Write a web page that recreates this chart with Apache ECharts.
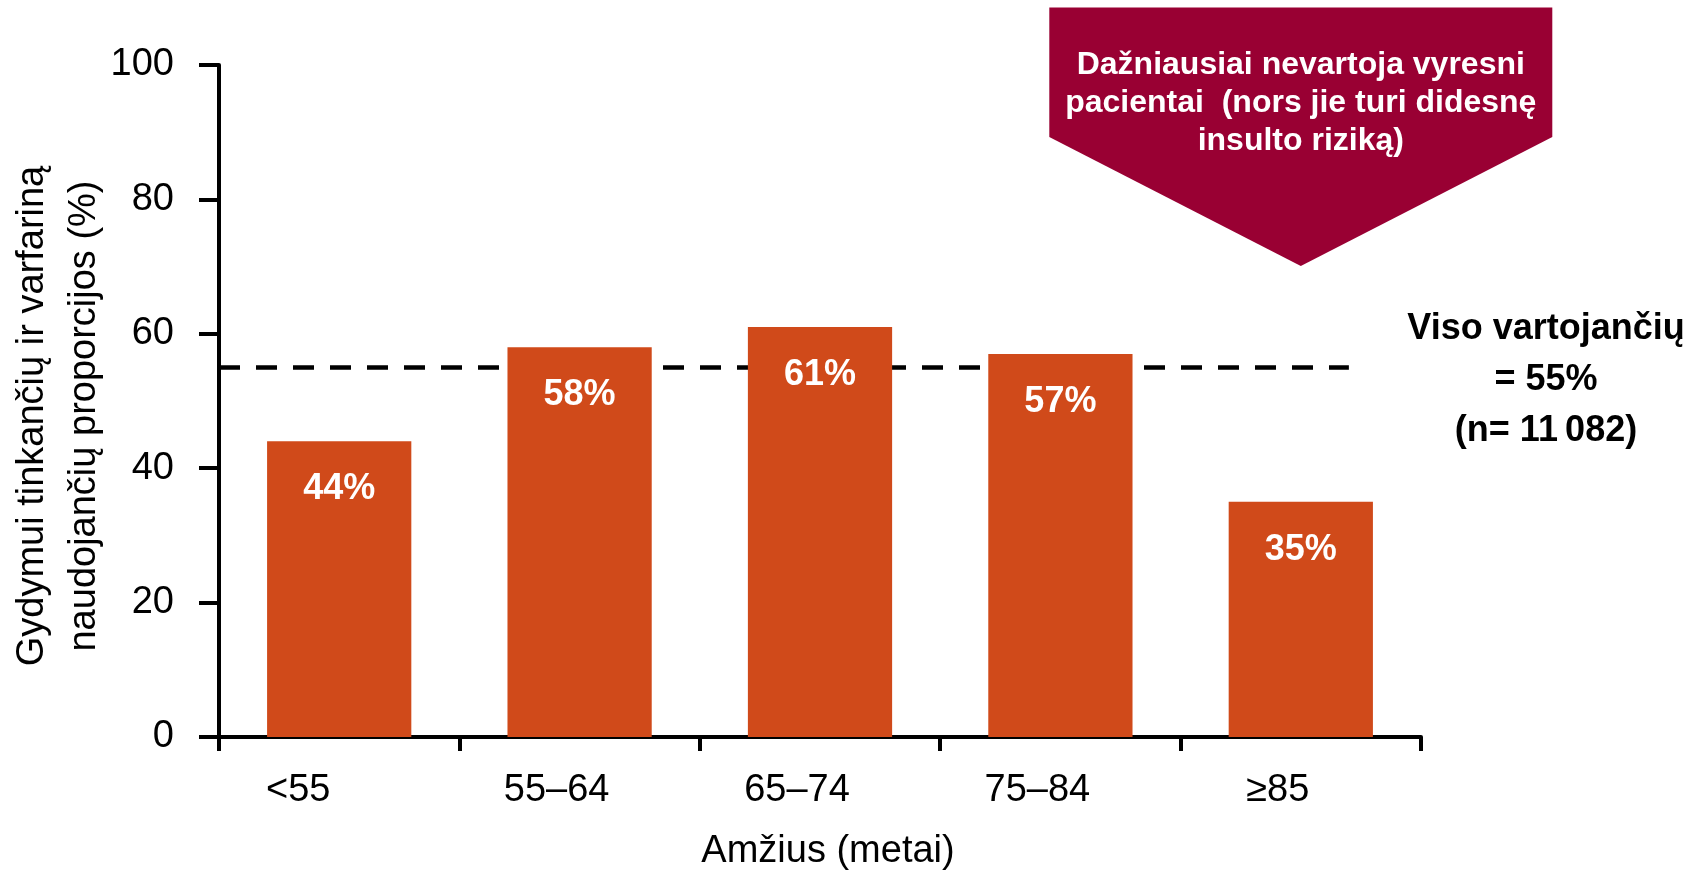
<!DOCTYPE html>
<html lang="lt">
<head>
<meta charset="utf-8">
<title>Varfarino vartojimas pagal amžių</title>
<script src="https://cdn.jsdelivr.net/npm/echarts@6/dist/echarts.min.js"></script>
<style>
  html, body { margin: 0; padding: 0; background: #ffffff; }
  #chart { width: 1707px; height: 870px; }
</style>
</head>
<body>
<div id="chart"></div>
<script>
// Amžiaus grupės ir varfariną vartojančių dalis (%)
const ageGroups = ['<55', '55–64', '65–74', '75–84', '≥85'];
const warfarinShare = [44, 58, 61, 57, 35];

// Bendra vartojančių dalis ir brūkšninės linijos ilgis (kategorijų vienetais)
const overallShare = 55;
const overallSpan = [0, 4.7];

// Vertės ašies padalos
const yTicks = [0, 20, 40, 60, 80, 100];

const FONT = "'Liberation Sans', Arial, sans-serif";
const BAR_COLOR = '#D04A1A';
const CALLOUT_COLOR = '#990033';

const chart = echarts.init(document.getElementById('chart'), null, { renderer: 'canvas' });

const option = {
  animation: false,
  backgroundColor: '#ffffff',
  grid: {
    left: 219, right: 286, top: 65, bottom: 133,
    outerBoundsMode: 'none', containLabel: false
  },
  xAxis: [
    {
      type: 'category',
      data: ageGroups,
      axisLine: { show: true, lineStyle: { color: '#000', width: 4 } },
      axisTick: { show: true, alignWithLabel: false, interval: 0, length: 14, lineStyle: { color: '#000', width: 4 } },
      axisLabel: {
        color: '#000', fontFamily: FONT, fontSize: 38, margin: 35, interval: 0,
        // kategorijų užrašai šiek tiek paslinkti į kairę
        formatter: function (value, index) {
          return (index === 0 ? '{first|' : '{cat|') + value + '}';
        },
        rich: {
          first: { fontFamily: FONT, fontSize: 38, color: '#000', padding: [0, 82, 0, 0] },
          cat: { fontFamily: FONT, fontSize: 38, color: '#000', padding: [0, 46, 0, 0] }
        }
      },
      name: 'Amžius (metai)',
      nameLocation: 'middle',
      nameGap: 96,
      nameTextStyle: { color: '#000', fontFamily: FONT, fontSize: 38, padding: [0, 0, 0, 16] },
      splitLine: { show: false }
    },
    {
      type: 'value',
      min: 0, max: ageGroups.length,
      show: false
    }
  ],
  yAxis: {
    type: 'value',
    min: yTicks[0],
    max: yTicks[yTicks.length - 1],
    interval: yTicks[1] - yTicks[0],
    axisLine: { show: true, lineStyle: { color: '#000', width: 4 } },
    axisTick: { show: true, length: 20, lineStyle: { color: '#000', width: 4 } },
    axisLabel: { color: '#000', fontFamily: FONT, fontSize: 38, margin: 45 },
    splitLine: { show: false }
  },
  series: [
    {
      name: 'Bendra dalis',
      type: 'line',
      xAxisIndex: 1,
      z: 1,
      symbol: 'none',
      silent: true,
      data: overallSpan.map(function (x) { return [x, overallShare]; }),
      lineStyle: { color: '#000', width: 4.5, type: [21, 16] }
    },
    {
      name: 'Varfariną naudojantys',
      type: 'bar',
      xAxisIndex: 0,
      z: 3,
      barWidth: '60%',
      data: warfarinShare,
      itemStyle: { color: BAR_COLOR },
      label: {
        show: true,
        position: 'insideTop',
        distance: 30,
        formatter: '{c}%',
        color: '#fff',
        fontFamily: FONT,
        fontWeight: 'bold',
        fontSize: 36
      }
    }
  ]
};

chart.setOption(option);

// Anotacijos: y ašies pavadinimas, rodyklė virš vyriausių grupės, bendra dalis
const tip = chart.convertToPixel({ xAxisIndex: 0 }, ageGroups[ageGroups.length - 1]);
const half = 251.5;
const topY = 7.5, shoulderY = 137, tipY = 266;

chart.setOption({
  graphic: [
    {
      type: 'text',
      x: 59, y: 416,
      rotation: Math.PI / 2,
      style: {
        text: 'Gydymui tinkančių ir varfariną\nnaudojančių proporcijos (%)',
        fill: '#000',
        font: '38px ' + FONT,
        align: 'center',
        verticalAlign: 'middle',
        lineHeight: 52
      }
    },
    {
      type: 'polygon',
      shape: {
        points: [
          [tip - half, topY], [tip + half, topY], [tip + half, shoulderY],
          [tip, tipY], [tip - half, shoulderY]
        ]
      },
      style: { fill: CALLOUT_COLOR }
    },
    {
      type: 'text',
      x: tip, y: 103,
      style: {
        text: 'Dažniausiai nevartoja vyresni\npacientai  (nors jie turi didesnę\ninsulto riziką)',
        fill: '#fff',
        font: 'bold 32px ' + FONT,
        align: 'center',
        verticalAlign: 'middle',
        lineHeight: 38
      }
    },
    {
      type: 'text',
      x: 1546, y: 380,
      style: {
        text: 'Viso vartojančių\n= ' + overallShare + '%\n(n= 11\u2009082)',
        fill: '#000',
        font: 'bold 36px ' + FONT,
        align: 'center',
        verticalAlign: 'middle',
        lineHeight: 51
      }
    }
  ]
});
</script>
</body>
</html>
